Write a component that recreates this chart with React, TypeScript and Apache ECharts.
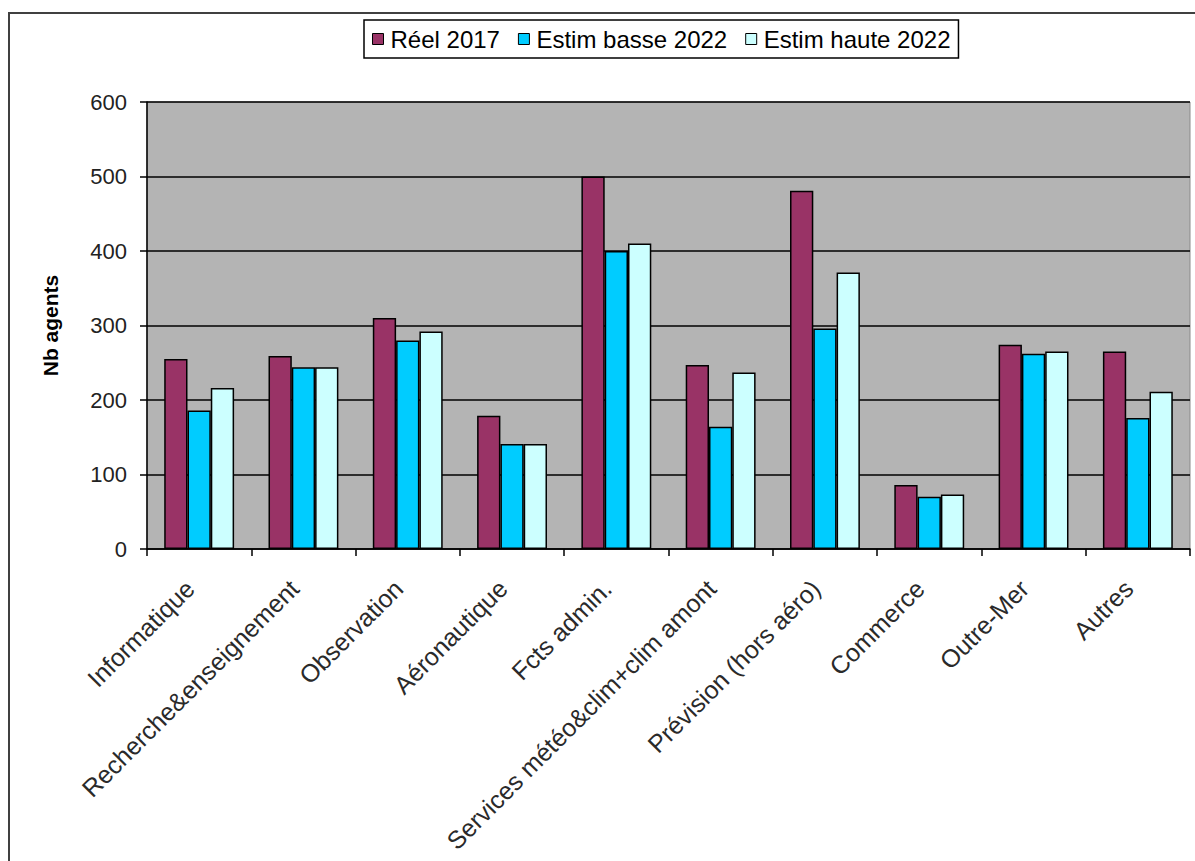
import React, { useEffect, useRef } from "react";
import * as echarts from "echarts";

const categories = [
  "Informatique",
  "Recherche&enseignement",
  "Observation",
  "Aéronautique",
  "Fcts admin.",
  "Services météo&clim+clim amont",
  "Prévision (hors aéro)",
  "Commerce",
  "Outre-Mer",
  "Autres",
];
const reel2017 = [255, 259, 310, 179, 500, 247, 481, 86, 274, 265];
const basse2022 = [186, 244, 280, 141, 400, 164, 296, 70, 262, 176];
const haute2022 = [216, 244, 292, 141, 410, 237, 371, 73, 265, 211];
const yTicks = [0, 100, 200, 300, 400, 500, 600];

const seriesNames = ["Réel 2017", "Estim basse 2022", "Estim haute 2022"];
const seriesColors = ["#993366", "#00CCFF", "#CCFFFF"];

const FONT = "'Liberation Sans', Arial, sans-serif";

export default function App() {
  const ref = useRef<HTMLDivElement>(null);
  useEffect(() => {
    if (!ref.current) return;
    const chart = echarts.init(ref.current, null, { renderer: "svg" });
    const data = [reel2017, basse2022, haute2022];
    chart.setOption({
      animation: false,
      backgroundColor: "#ffffff",
      textStyle: { fontFamily: FONT },
      graphic: [
        {
          type: "rect",
          shape: { x: 9, y: 13, width: 1200, height: 860 },
          style: { fill: "none", stroke: "#404040", lineWidth: 2 },
          silent: true,
          z: -1,
        },
      ],
      legend: {
        data: seriesNames,
        left: 364,
        top: 20,
        icon: "rect",
        itemWidth: 11,
        itemHeight: 11,
        itemGap: 18,
        padding: [7, 8, 7, 8],
        borderColor: "#000000",
        borderWidth: 1.5,
        backgroundColor: "#ffffff",
        itemStyle: { borderColor: "#000000", borderWidth: 1 },
        textStyle: { fontSize: 24, color: "#000000", fontFamily: FONT, padding: [0, 0, 0, 2] },
      },
      grid: {
        left: 147,
        right: 5,
        top: 102,
        bottom: 312,
        show: true,
        backgroundColor: "#B4B4B4",
        borderColor: "#8a8a8a",
        borderWidth: 1,
      },
      xAxis: {
        type: "category",
        data: categories,
        axisLine: { show: true, lineStyle: { color: "#000000", width: 1.5 } },
        axisTick: { show: true, length: 7, lineStyle: { color: "#000000", width: 1.5 } },
        axisLabel: {
          rotate: 45,
          interval: 0,
          fontSize: 25,
          color: "#2a2a2a",
          margin: 26,
          padding: [0, 13, 0, 0],
          fontFamily: FONT,
        },
      },
      yAxis: {
        type: "value",
        min: 0,
        max: 600,
        interval: 100,
        name: "Nb agents",
        nameLocation: "middle",
        nameGap: 86,
        nameRotate: 90,
        nameTextStyle: { fontSize: 21, fontWeight: "bold", color: "#000000", fontFamily: FONT },
        axisLine: { show: true, lineStyle: { color: "#000000", width: 1.5 } },
        axisTick: { show: true, length: 7, lineStyle: { color: "#000000", width: 1.5 } },
        axisLabel: {
          fontSize: 22,
          color: "#222222",
          margin: 20,
          fontFamily: FONT,
          formatter: (v: number) => (yTicks.includes(v) ? String(v) : ""),
        },
        splitLine: { show: true, lineStyle: { color: "#000000", width: 1.5 } },
      },
      series: seriesNames.map((name, i) => ({
        name,
        type: "bar",
        data: data[i],
        barGap: "0%",
        barCategoryGap: "33%",
        itemStyle: { color: seriesColors[i], borderColor: "#000000", borderWidth: 1.5 },
      })),
    });
    return () => chart.dispose();
  }, []);
  return (
    <div
      ref={ref}
      style={{ position: "fixed", left: 0, top: 0, width: 1195, height: 861 }}
    />
  );
}
